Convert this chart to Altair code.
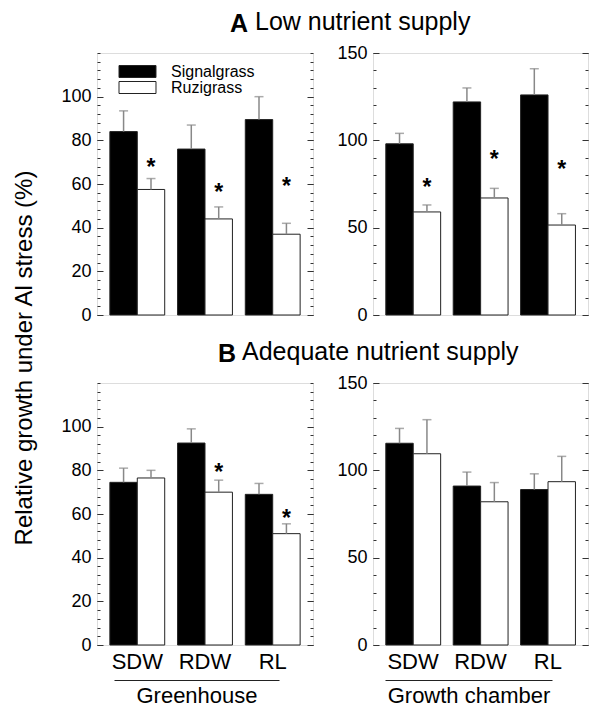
import altair as alt
import pandas as pd

FONT = "Liberation Sans"

cats = ["SDW", "RDW", "RL"]
species = ["Signalgrass", "Ruzigrass"]

# A: Low nutrient supply - Greenhouse
a_gh_sig = [84, 76, 89.5]
a_gh_sig_err = [9.5, 11, 10.5]
a_gh_ruz = [57.5, 44, 37]
a_gh_ruz_err = [5, 5.5, 5]
a_gh_star = [69.5, 58, 61]

# A: Low nutrient supply - Growth chamber
a_gc_sig = [98, 122, 126]
a_gc_sig_err = [6, 8, 15]
a_gc_ruz = [59, 67, 51.5]
a_gc_ruz_err = [4, 5.5, 6.5]
a_gc_star = [75.5, 91.5, 86]

# B: Adequate nutrient supply - Greenhouse
b_gh_sig = [74.5, 92.5, 69]
b_gh_sig_err = [6.5, 6.5, 5]
b_gh_ruz = [76.5, 70, 51]
b_gh_ruz_err = [3.5, 5.5, 4.5]
b_gh_star = [None, 81, 60]

# B: Adequate nutrient supply - Growth chamber
b_gc_sig = [115.5, 91, 89]
b_gc_sig_err = [8.5, 8, 9]
b_gc_ruz = [109.5, 82, 93.5]
b_gc_ruz_err = [19.5, 11, 14.5]
b_gc_star = [None, None, None]


def make_df(sig, sig_err, ruz, ruz_err, stars):
    rows = []
    for i, c in enumerate(cats):
        rows.append(dict(cat=c, sp="Signalgrass", mean=sig[i], upper=sig[i] + sig_err[i], star=None))
        rows.append(dict(cat=c, sp="Ruzigrass", mean=ruz[i], upper=ruz[i] + ruz_err[i], star=stars[i]))
    return pd.DataFrame(rows)


def panel(df, ymax, major, minor, W, H, bottom, xtitle, ul_range, legend, title):
    yscale = alt.Scale(domain=[0, ymax], nice=False, zero=True)
    xscale = alt.Scale(domain=cats, paddingInner=0.19, paddingOuter=0.19)
    xoff = alt.XOffset("sp:N", sort=species,
                       scale=alt.Scale(domain=species, paddingInner=0, paddingOuter=0))
    base = alt.Chart(df)
    if bottom:
        xaxis = alt.Axis(labels=True, ticks=False, domain=False, grid=False,
                         labelFontSize=22, labelPadding=6, title=None,
                         labelColor="black", labelFont=FONT, labelAngle=0)
    else:
        xaxis = None

    bars = base.mark_bar(stroke="#222", strokeWidth=1).encode(
        x=alt.X("cat:N", scale=xscale, axis=xaxis, sort=cats),
        xOffset=xoff,
        y=alt.Y("mean:Q", scale=yscale,
                axis=alt.Axis(values=major, orient="left", ticks=False, domain=False,
                              grid=False, labelFontSize=18, labelPadding=6, title=None,
                              labelColor="black", labelFont=FONT)),
        color=alt.Color("sp:N", scale=alt.Scale(domain=species, range=["black", "white"]),
                        legend=legend),
    )
    err = base.mark_rule(color="#888", strokeWidth=1.5).encode(
        x=alt.X("cat:N", scale=xscale, axis=None, sort=cats),
        xOffset=xoff,
        y=alt.Y("mean:Q", scale=yscale,
                axis=alt.Axis(orient="right", offset=-W, values=minor, labels=False,
                              domain=False, grid=False, tickSize=3, title=None,
                              tickColor="#333")),
        y2="upper:Q",
    )
    caps = base.mark_tick(color="#888", thickness=1.5, size=9).encode(
        x=alt.X("cat:N", scale=xscale, axis=None, sort=cats),
        xOffset=xoff,
        y=alt.Y("upper:Q", scale=yscale,
                axis=alt.Axis(orient="left", offset=-W, values=minor, labels=False,
                              domain=False, grid=False, tickSize=3, title=None,
                              tickColor="#333")),
    )
    stars = base.transform_filter("isValid(datum.star)").mark_text(
        text="*", fontSize=23, font=FONT, fontWeight="bold", baseline="middle", dy=5, color="black"
    ).encode(
        x=alt.X("cat:N", scale=xscale, axis=None, sort=cats),
        xOffset=xoff,
        y=alt.Y("star:Q", scale=yscale,
                axis=alt.Axis(orient="right", offset=-W, values=major, labels=False,
                              domain=False, grid=False, tickSize=6, title=None,
                              tickColor="#333")),
    )
    if bottom:
        ulaxis = alt.Axis(orient="bottom", offset=35, domain=True, domainColor="#222",
                          domainWidth=1, ticks=False, labels=False, grid=False,
                          title=xtitle, titleFontSize=22, titleFontWeight="normal",
                          titleFont=FONT, titlePadding=5, titleColor="black")
    else:
        ulaxis = None
    ul = base.mark_point(opacity=0).encode(
        x=alt.XDatum(0, type="quantitative",
                     scale=alt.Scale(domain=[0, 1], range=ul_range), axis=ulaxis),
        y=alt.YDatum(0, type="quantitative", scale=yscale,
                     axis=alt.Axis(orient="left", offset=-W, values=major, labels=False,
                                   domain=False, grid=False, tickSize=6, title=None,
                                   tickColor="#333")),
    )
    return alt.layer(bars, err, caps, stars, ul).resolve_scale(
        x="independent", y="independent"
    ).properties(width=W, height=H, title=title)


legend = alt.Legend(
    title=None, orient="none", legendX=32.5, legendY=10.5, padding=0,
    symbolType="M-3.083,-1H3.083V1H-3.083Z", symbolSize=144,
    symbolStrokeColor="#222", symbolStrokeWidth=1,
    labelFontSize=16, labelFont=FONT, labelColor="black", labelOffset=25.5,
    rowPadding=0,
)

H = 262
WL = 216
WR = 215


def ttl(text, bold, dx, dy):
    return alt.Title(text, fontSize=25, fontWeight="bold" if bold else "normal", font=FONT,
                     anchor="start", frame="group", dx=dx, dy=dy, offset=16, color="black")


tl = panel(make_df(a_gh_sig, a_gh_sig_err, a_gh_ruz, a_gh_ruz_err, a_gh_star),
           120, [0, 20, 40, 60, 80, 100], list(range(0, 121, 4)), WL, H,
           False, None, [17, 182], legend, ttl("A", True, 133, 0))
tr = panel(make_df(a_gc_sig, a_gc_sig_err, a_gc_ruz, a_gc_ruz_err, a_gc_star),
           150, [0, 50, 100, 150], list(range(0, 151, 10)), WR, H,
           False, None, [12, 179], None, ttl("Low nutrient supply", False, -118, 7))
bl = panel(make_df(b_gh_sig, b_gh_sig_err, b_gh_ruz, b_gh_ruz_err, b_gh_star),
           120, [0, 20, 40, 60, 80, 100], list(range(0, 121, 4)), WL, H,
           True, "Greenhouse", [17, 182], None, ttl("B", True, 121, 0))
br = panel(make_df(b_gc_sig, b_gc_sig_err, b_gc_ruz, b_gc_ruz_err, b_gc_star),
           150, [0, 50, 100, 150], list(range(0, 151, 10)), WR, H,
           True, "Growth chamber", [12, 179], None, ttl("Adequate nutrient supply", False, -131, 7))

top = alt.hconcat(tl, tr, spacing=60, bounds="flush").resolve_scale(color="independent").resolve_legend(color="independent")
bot = alt.hconcat(bl, br, spacing=60, bounds="flush").resolve_scale(color="independent").resolve_legend(color="independent")

chart = alt.vconcat(top, bot, spacing=14).resolve_scale(color="independent").resolve_legend(
    color="independent"
).properties(
    title=alt.Title("Relative growth under Al stress (%)", orient="left", anchor="middle",
                    fontSize=24, fontWeight="normal", font=FONT, color="black", offset=23),
    padding={"left": 13, "top": 9, "right": 0, "bottom": 0},
).configure_view(stroke="#333", strokeWidth=1).configure(background="white")

chart.save("out.html", embed_options={"renderer": "svg", "actions": False})
